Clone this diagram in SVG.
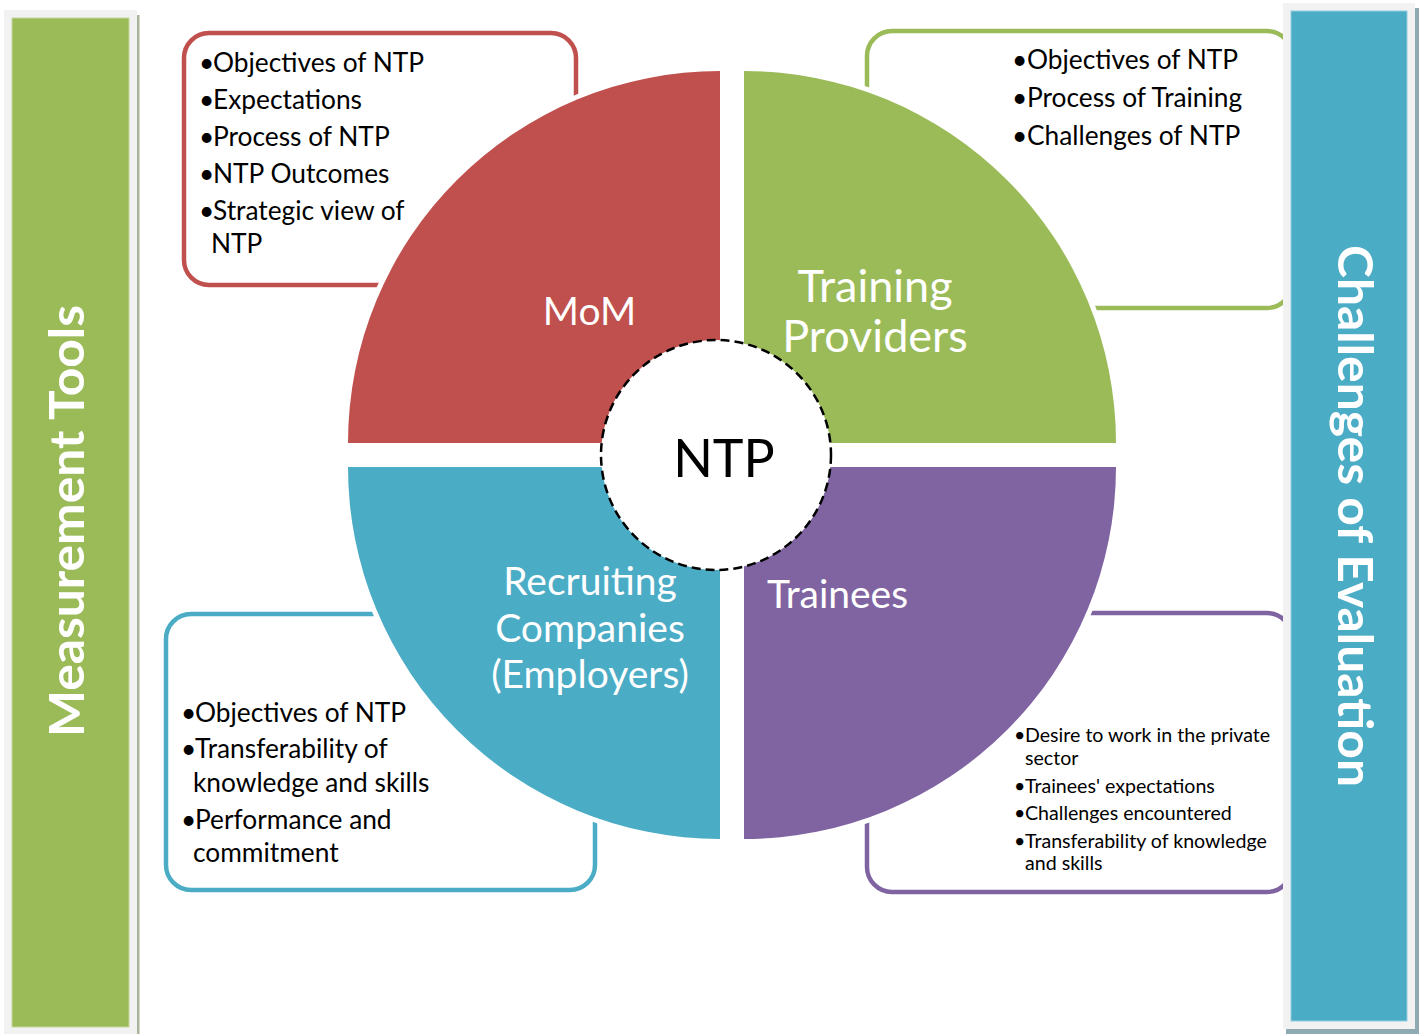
<svg xmlns="http://www.w3.org/2000/svg" width="1421" height="1034" viewBox="0 0 1421 1034">
<style>
.t{font-family:Lato,"Open Sans","Liberation Sans",sans-serif;}
.box{fill:#fff;stroke-width:4.5;}
.lst{font-size:26.3px;fill:#000;}
.sm{font-size:19.6px;fill:#000;}
.lbl{font-size:39px;fill:#fff;text-anchor:middle;}
.halo{fill:#fff;stroke:#fff;stroke-width:10;}
.title{font-size:48px;font-weight:bold;fill:#fff;text-anchor:middle;}
</style>
<rect width="1421" height="1034" fill="#fff"/>

<g id="box-mom">
<rect class="box" x="184" y="33" width="392" height="252" rx="25" stroke="#C0504D"/>
</g>
<g id="box-training">
<rect class="box" x="867" y="31" width="425" height="277" rx="25" stroke="#9BBB59"/>
</g>
<g id="box-recruiting">
<rect class="box" x="166" y="614" width="429" height="276" rx="25" stroke="#4BACC6"/>
</g>
<g id="box-trainees">
<rect class="box" x="867" y="613" width="425" height="279" rx="25" stroke="#8064A2"/>
</g>

<g id="quadrants">
<path class="halo" d="M720,443 L348,443 A372,372 0 0 1 720,71 Z"/>
<path class="halo" d="M744,443 L744,71 A372,372 0 0 1 1116,443 Z"/>
<path class="halo" d="M720,467 L720,839 A372,372 0 0 1 348,467 Z"/>
<path class="halo" d="M744,467 L1116,467 A372,372 0 0 1 744,839 Z"/>
<path id="q-mom" d="M720,443 L348,443 A372,372 0 0 1 720,71 Z" fill="#C0504D"/>
<path id="q-training" d="M744,443 L744,71 A372,372 0 0 1 1116,443 Z" fill="#9BBB59"/>
<path id="q-recruiting" d="M720,467 L720,839 A372,372 0 0 1 348,467 Z" fill="#4BACC6"/>
<path id="q-trainees" d="M744,467 L1116,467 A372,372 0 0 1 744,839 Z" fill="#8064A2"/>
</g>

<g id="center-ntp">
<circle cx="716" cy="455" r="115" fill="#fff" stroke="#000" stroke-width="2.5" stroke-dasharray="9 5"/>
<text class="t" x="724" y="477" font-size="52" text-anchor="middle" fill="#000">NTP</text>
</g>

<g id="labels">
<text class="t lbl" x="589.5" y="325">MoM</text>
<text class="t lbl" x="875" y="302" style="font-size:45px">Training</text>
<text class="t lbl" x="875" y="352" style="font-size:45px">Providers</text>
<text class="t lbl" x="590" y="595">Recruiting</text>
<text class="t lbl" x="590" y="642">Companies</text>
<text class="t lbl" x="590" y="688">(Employers)</text>
<text class="t lbl" x="837.5" y="608">Trainees</text>
</g>

<g id="list-mom" class="t lst">
<text y="72"><tspan x="199">•</tspan><tspan x="213">Objectives of NTP</tspan></text>
<text y="109"><tspan x="199">•</tspan><tspan x="213">Expectations</tspan></text>
<text y="146"><tspan x="199">•</tspan><tspan x="213">Process of NTP</tspan></text>
<text y="183"><tspan x="199">•</tspan><tspan x="213">NTP Outcomes</tspan></text>
<text y="220"><tspan x="199">•</tspan><tspan x="213">Strategic view of</tspan></text>
<text x="211" y="253">NTP</text>
</g>

<g id="list-training" class="t lst">
<text y="69"><tspan x="1012">•</tspan><tspan x="1027">Objectives of NTP</tspan></text>
<text y="107"><tspan x="1012">•</tspan><tspan x="1027">Process of Training</tspan></text>
<text y="145"><tspan x="1012">•</tspan><tspan x="1027">Challenges of NTP</tspan></text>
</g>

<g id="list-recruiting" class="t lst">
<text y="722"><tspan x="181">•</tspan><tspan x="195">Objectives of NTP</tspan></text>
<text y="758"><tspan x="181">•</tspan><tspan x="195">Transferability of</tspan></text>
<text x="193" y="792">knowledge and skills</text>
<text y="829"><tspan x="181">•</tspan><tspan x="195">Performance and</tspan></text>
<text x="193" y="862">commitment</text>
</g>

<g id="list-trainees" class="t sm">
<text y="742"><tspan x="1014">•</tspan><tspan x="1025">Desire to work in the private</tspan></text>
<text x="1025" y="765">sector</text>
<text y="793"><tspan x="1014">•</tspan><tspan x="1025">Trainees' expectations</tspan></text>
<text y="820"><tspan x="1014">•</tspan><tspan x="1025">Challenges encountered</tspan></text>
<text y="848"><tspan x="1014">•</tspan><tspan x="1025">Transferability of knowledge</tspan></text>
<text x="1025" y="870">and skills</text>
</g>

<g id="bar-measurement">
<rect x="137" y="15" width="2.5" height="1019" fill="#A9B59B"/>
<rect x="4" y="10" width="133" height="1030" fill="#F2F2F2"/>
<rect x="12" y="18" width="117" height="1009" fill="#9BBB59" stroke="#C3D69B" stroke-width="1"/>
<text class="t title" transform="translate(84,521) rotate(-90)" textLength="432" lengthAdjust="spacingAndGlyphs">Measurement Tools</text>
</g>

<g id="bar-challenges">
<rect x="1286" y="8" width="133" height="1026" fill="#8FAAB3"/>
<rect x="1283" y="3" width="132" height="1026" fill="#F2F2F2"/>
<rect x="1291" y="11" width="116" height="1010" fill="#4BACC6" stroke="#92CDDC" stroke-width="1"/>
<text class="t title" transform="translate(1338,516) rotate(90)" textLength="542" lengthAdjust="spacingAndGlyphs">Challenges of Evaluation</text>
</g>
</svg>
